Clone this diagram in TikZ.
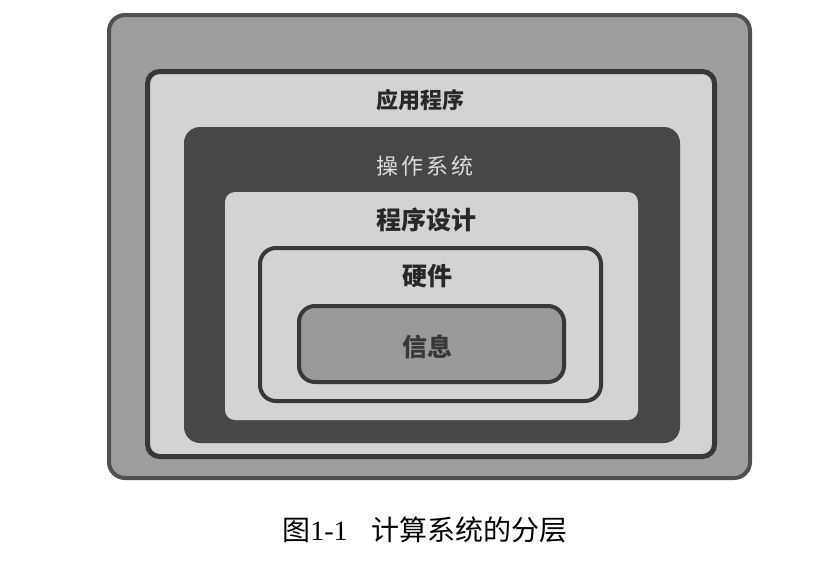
\documentclass[tikz,border=0pt]{standalone}
\usepackage{fontspec}
\setmainfont{Liberation Serif}
\newfontfamily\cjk{Noto Sans CJK SC}

\definecolor{outerfill}{HTML}{9E9E9E}
\definecolor{outerline}{HTML}{505050}
\definecolor{lightfill}{HTML}{D3D3D3}
\definecolor{darkline}{HTML}{383838}
\definecolor{osfill}{HTML}{474747}
\definecolor{infofill}{HTML}{9A9A9A}
\definecolor{inktext}{HTML}{282828}
\definecolor{ostext}{HTML}{DCDCDC}

\tikzset{
  layerbox/.style={rectangle, inner sep=0pt, outer sep=0pt},
  lbl/.style={inner sep=0pt, font=\cjk\bfseries\fontsize{25}{25}\selectfont, text=inktext},
}

\begin{document}
\begin{tikzpicture}[x=1pt,y=-1pt]
\useasboundingbox[fill=white] (0,0) rectangle (830,560);

% nested layers, outermost first
\node[layerbox, rounded corners=16pt, draw=outerline, line width=4pt, fill=outerfill,
      minimum width=641pt, minimum height=463pt] (apps) at (429.5,246.5) {};
\node[layerbox, rounded corners=12pt, draw=darkline, line width=5pt, fill=lightfill,
      minimum width=567pt, minimum height=385pt] (appinner) at (431,264) {};
\node[layerbox, rounded corners=16pt, fill=osfill,
      minimum width=496pt, minimum height=316pt] (os) at (432,285) {};
\node[layerbox, rounded corners=10pt, fill=lightfill,
      minimum width=413pt, minimum height=228pt] (prog) at (431.5,306) {};
\node[layerbox, rounded corners=16pt, draw=darkline, line width=4pt, fill=lightfill,
      minimum width=341pt, minimum height=153pt] (hw) at (430.5,324.5) {};
\node[layerbox, rounded corners=16pt, draw=darkline, line width=4pt, fill=infofill,
      minimum width=265pt, minimum height=76pt] (info) at (431.5,344) {};

% layer names
\node[lbl, font=\cjk\bfseries\fontsize{22}{22}\selectfont] (lapp) at (420,100) {应用程序};
\node[lbl, font=\cjk\fontsize{22}{22}\selectfont, text=ostext] (los) at (425,166)
  {操\hspace{3pt}作\hspace{3pt}系\hspace{3pt}统};
\node[lbl] (lprog) at (426,220) {程序设计};
\node[lbl] (lhw) at (427,276) {硬件};
\node[lbl, text=black!78] (linfo) at (427,347) {信息};

% caption
\node[inner sep=0pt, font=\fontsize{28}{28}\selectfont, text=black] (cap) at (425,530)
  {{\cjk 图}1-1\hspace{24pt}{\cjk 计算系统的分层}};
\end{tikzpicture}
\end{document}
